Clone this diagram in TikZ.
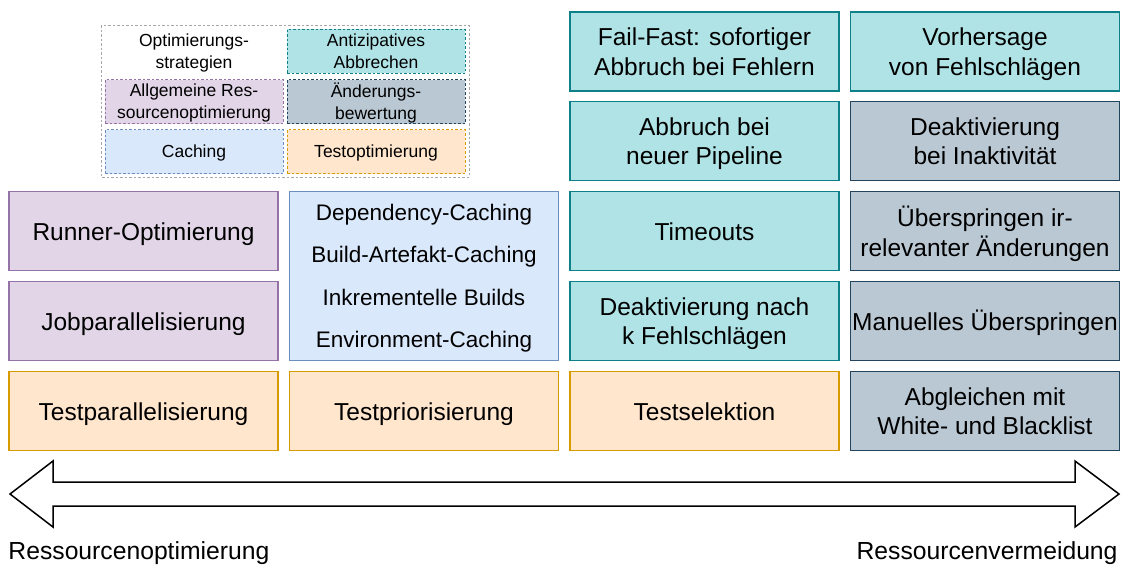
\documentclass[tikz,border=0pt]{standalone}
\usepackage{fontspec}
\setmainfont{Liberation Sans}
\definecolor{lilafill}{HTML}{E1D5E7}\definecolor{lilarand}{HTML}{9673A6}
\definecolor{blaufill}{HTML}{DAE8FC}\definecolor{blaurand}{HTML}{6C8EBF}
\definecolor{orangefill}{HTML}{FFE6CC}\definecolor{orangerand}{HTML}{D79B00}
\definecolor{tuerkisfill}{HTML}{B0E3E6}\definecolor{tuerkisrand}{HTML}{0E8088}
\definecolor{grauefill}{HTML}{BAC8D3}\definecolor{grauerand}{HTML}{23445D}
\tikzset{
  feld/.style={draw,line width=1.5pt,minimum width=269pt,minimum height=79pt,inner sep=0pt,text height=22pt,text depth=2.4pt,font=\fontsize{24.5}{29.5}\selectfont},
  zweizeilig/.style={align=center,text height=,text depth=-.8pt},
  allg/.style={fill=lilafill,draw=lilarand},
  cache/.style={fill=blaufill,draw=blaurand},
  testopt/.style={fill=orangefill,draw=orangerand},
  antiz/.style={fill=tuerkisfill,draw=tuerkisrand},
  aenderung/.style={fill=grauefill,draw=grauerand},
  legfeld/.style={line width=.8pt,dash pattern=on 2.5pt off 2pt,minimum width=178pt,minimum height=44pt,inner sep=0pt,align=center,text depth=-1pt,font=\fontsize{17.5}{22}\selectfont}
}

\begin{document}
\begin{tikzpicture}[x=1pt,y=-1pt,line width=1pt]
\useasboundingbox (0,0) rectangle (1125,566);
% Legende
\draw[draw=black!35,line width=.8pt,dash pattern=on 2.5pt off 2pt] (101,25) rectangle (469,177);
\node[legfeld] (legtitel) at (194,51) {Optimierungs-\\strategien};
\node[legfeld,draw,antiz] (legantiz) at (376,51) {Antizipatives\\Abbrechen};
\node[legfeld,draw,allg] (legallg) at (194,101.5) {Allgemeine Res-\\sourcenoptimierung};
\node[legfeld,draw,aenderung] (legaend) at (376,101.5) {Änderungs-\\bewertung};
\node[legfeld,draw,cache] (legcache) at (194,151.5) {Caching};
\node[legfeld,draw,testopt] (legtest) at (376,151.5) {Testoptimierung};
% Spalte 1
\node[feld,allg] (runner) at (143.5,231) {Runner-Optimierung};
\node[feld,allg] (jobpar) at (143.5,321) {Jobparallelisierung};
\node[feld,testopt] (testpar) at (143.5,411) {Testparallelisierung};
% Spalte 2
\node[feld,zweizeilig,cache,minimum height=169pt,text depth=-1.2pt,font=\fontsize{22.5}{42.5}\selectfont] (caching) at (424,276) {Dependency-Caching\\Build-Artefakt-Caching\\Inkrementelle Builds\\Environment-Caching};
\node[feld,testopt] (testprio) at (424,411) {Testpriorisierung};
% Spalte 3
\node[feld,zweizeilig,antiz] (failfast) at (704.5,51.5) {Fail-Fast: sofortiger\\Abbruch bei Fehlern};
\node[feld,zweizeilig,antiz] (pipeline) at (704.5,141) {Abbruch bei\\neuer Pipeline};
\node[feld,antiz] (timeouts) at (704.5,231) {Timeouts};
\node[feld,zweizeilig,antiz] (kfehl) at (704.5,321) {Deaktivierung nach\\k Fehlschlägen};
\node[feld,testopt] (testsel) at (704.5,411) {Testselektion};
% Spalte 4
\node[feld,zweizeilig,antiz] (vorhersage) at (985,51.5) {Vorhersage\\von Fehlschlägen};
\node[feld,zweizeilig,aenderung] (inaktiv) at (985,141) {Deaktivierung\\bei Inaktivität};
\node[feld,zweizeilig,aenderung] (irrelevant) at (985,231) {Überspringen ir-\\relevanter Änderungen};
\node[feld,aenderung] (manuell) at (985,321) {Manuelles Überspringen};
\node[feld,zweizeilig,aenderung] (liste) at (985,411) {Abgleichen mit\\White- und Blacklist};
% Achse
\draw[line width=1.5pt,line join=miter,fill=white] (10,494)--(53,461)--(53,482)--(1075,482)--(1075,461)--(1119,494)--(1075,527)--(1075,506)--(53,506)--(53,527)--cycle;
\node[anchor=west,inner sep=0pt,font=\fontsize{24.7}{29}\selectfont] (links) at (8,553) {Ressourcenoptimierung};
\node[anchor=east,inner sep=0pt,font=\fontsize{24.7}{29}\selectfont] (rechts) at (1118,553) {Ressourcenvermeidung};
\end{tikzpicture}
\end{document}
